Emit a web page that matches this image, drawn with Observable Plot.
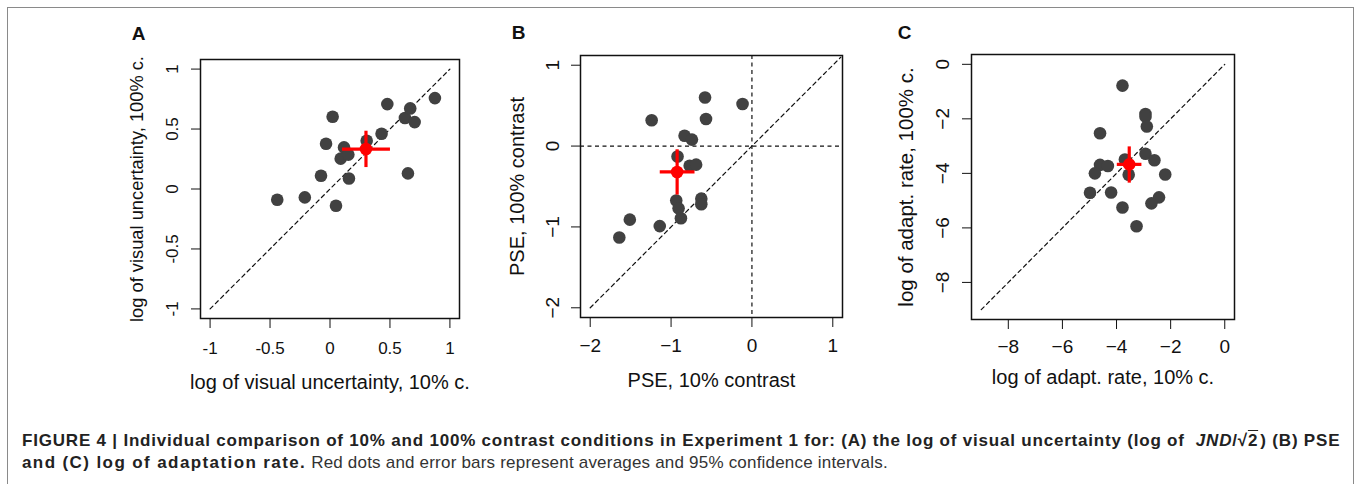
<!DOCTYPE html>
<html>
<head>
<meta charset="utf-8">
<script src="https://cdn.jsdelivr.net/npm/d3@7"></script>
<script src="https://cdn.jsdelivr.net/npm/@observablehq/plot@0.6"></script>
<style>
  html, body { margin: 0; padding: 0; background: #fff; }
  body { width: 1358px; height: 484px; position: relative; overflow: hidden; font-family: "Liberation Sans", Arial, Helvetica, sans-serif; }
  #border { position: absolute; left: 7px; top: 7px; width: 1347px; height: 520px; border: 1.5px solid #8a8a8a; box-sizing: border-box; }
  .panel { position: absolute; top: 15px; }
  .panel svg { overflow: visible; }
  #caption { position: absolute; left: 22px; top: 430px; width: 1335px; font-size: 17px; line-height: 21.6px; color: #333; white-space: nowrap; }
  #caption b { color: #222; letter-spacing: 0.8px; }
  #caption b.l2 { letter-spacing: 1.4px; }
  #caption span.reg { font-size: 17px; letter-spacing: 0.2px; }
  .ov { text-decoration: overline; }
</style>
</head>
<body>
<div id="border"></div>
<div id="pA" class="panel" style="left:110px"></div>
<div id="pB" class="panel" style="left:490px"></div>
<div id="pC" class="panel" style="left:881px"></div>
<div id="caption"><b>FIGURE 4 | Individual comparison of 10% and 100% contrast conditions in Experiment 1 for: (A) the log of visual uncertainty (log of&nbsp; <i>JND</i>/√<span class="ov">2</span>&#8202;) (B) PSE</b><br><b class="l2">and (C) log of adaptation rate.</b><span class="reg"> Red dots and error bars represent averages and 95% confidence intervals.</span></div>
<script>
// ---------- Panel A: log of visual uncertainty ----------
const aX10  = [-0.44, -0.21, 0.05, -0.075, 0.158, -0.033, 0.022, 0.089, 0.117, 0.153, 0.306, 0.43, 0.478, 0.625, 0.669, 0.706, 0.65, 0.875];
const aY100 = [-0.09, -0.07, -0.14, 0.11, 0.087, 0.378, 0.603, 0.253, 0.347, 0.287, 0.403, 0.461, 0.708, 0.592, 0.672, 0.558, 0.13, 0.758];
const aMean = [0.30, 0.333];
const aCIx  = [0.10, 0.50];
const aCIy  = [0.183, 0.486];
const aTicks = [-1, -0.5, 0, 0.5, 1];
const aDiag  = [-1, 1];

// ---------- Panel B: PSE ----------
const bX10  = [-1.64, -1.51, -1.14, -1.24, -0.936, -0.907, -0.878, -0.92, -0.833, -0.742, -0.77, -0.69, -0.626, -0.626, -0.58, -0.568, -0.116];
const bY100 = [-1.13, -0.91, -0.99, 0.32, -0.674, -0.77, -0.893, -0.129, 0.128, 0.08, -0.244, -0.23, -0.65, -0.72, 0.60, 0.335, 0.52];
const bMean = [-0.925, -0.32];
const bCIx  = [-1.14, -0.71];
const bCIy  = [-0.60, -0.04];
const bTicks = [-2, -1, 0, 1];
const bDiag  = [-2, 1.1];

// ---------- Panel C: log of adaptation rate ----------
const cX10  = [-3.78, -2.93, -2.93, -2.88, -4.61, -2.93, -2.60, -4.61, -4.32, -3.69, -4.80, -3.55, -2.20, -4.98, -4.20, -2.43, -2.71, -3.78, -3.26];
const cY100 = [-0.78, -1.82, -1.92, -2.28, -2.53, -3.28, -3.52, -3.69, -3.73, -3.49, -4.00, -4.05, -4.04, -4.71, -4.70, -4.88, -5.10, -5.25, -5.94];
const cMean = [-3.53, -3.67];
const cCIx  = [-3.99, -3.08];
const cCIy  = [-4.34, -3.01];
const cTicks = [-8, -6, -4, -2, 0];
const cDiag  = [-9, 0];

const FONT = '"Liberation Sans", Arial, Helvetica, sans-serif';

function panel(o) {
  const pts = o.xs.map((x, i) => ({x, y: o.ys[i]}));
  const mean = [{x: o.mean[0], y: o.mean[1]}];
  const hbar = [{x1: o.cix[0], x2: o.cix[1], y: o.mean[1]}];
  const vbar = [{y1: o.ciy[0], y2: o.ciy[1], x: o.mean[0]}];
  const marks = [];
  marks.push(Plot.line(o.diag, {x: d => d, y: d => d, stroke: "#111", strokeWidth: 1.2, strokeDasharray: "4,3.5"}));
  if (o.cross) {
    marks.push(Plot.ruleY([0], {stroke: "#111", strokeWidth: 1.2, strokeDasharray: "4,3.5"}));
    marks.push(Plot.ruleX([0], {stroke: "#111", strokeWidth: 1.2, strokeDasharray: "4,3.5"}));
  }
  marks.push(
    Plot.dot(pts, {x: "x", y: "y", r: 6.3, fill: "#414141", stroke: "none"}),
    Plot.link(hbar, {x1: "x1", x2: "x2", y1: "y", y2: "y", stroke: "#ff0000", strokeWidth: 3.2}),
    Plot.link(vbar, {x1: "x", x2: "x", y1: "y1", y2: "y2", stroke: "#ff0000", strokeWidth: 3.2}),
    Plot.dot(mean, {x: "x", y: "y", r: 6.3, fill: "#ff0000", stroke: "none"}),
    Plot.frame({stroke: "#111", strokeWidth: 1.5}),
    Plot.axisX({ticks: o.ticks, tickFormat: o.fmt, tickSize: 10, tickPadding: o.xpad, label: null, fontSize: o.tickFont, stroke: "#111"}),
    Plot.axisY({ticks: o.ticks, tickFormat: o.fmt, tickSize: 9, tickPadding: o.ypad, tickRotate: -90, label: null, fontSize: o.tickFont, stroke: "#111"}),
    Plot.text([o.xlabel], {text: d => d, frameAnchor: "bottom", textAnchor: "middle", lineAnchor: "middle", dy: o.xlabDy, fontSize: 20, fill: "#111"}),
    Plot.text([o.ylabel], {text: d => d, frameAnchor: "left", textAnchor: "middle", lineAnchor: "middle", rotate: -90, dx: o.ylabDx, fontSize: o.ylabFont, fill: "#111"}),
    Plot.text([o.letter], {text: d => d, frameAnchor: "top-left", textAnchor: "middle", lineAnchor: "middle", dx: o.letDx, dy: o.letDy, fontSize: 19, fontWeight: "bold", fill: "#111"})
  );
  return Plot.plot({
    width: o.W, height: o.H,
    marginLeft: o.ml, marginTop: o.mt, marginRight: o.mr, marginBottom: o.mb,
    x: {domain: o.xdom}, y: {domain: o.ydom},
    style: {fontFamily: FONT, fontSize: "18px", color: "#111", background: "transparent", overflow: "visible"},
    marks
  });
}

const plain = d => String(d);
const minus = d => d3.format("")(d).replace("-", "\u2212");

document.getElementById("pA").append(panel({
  xs: aX10, ys: aY100, mean: aMean, cix: aCIx, ciy: aCIy, ticks: aTicks, diag: aDiag, fmt: plain,
  xdom: [-1.08, 1.08], ydom: [-1.08, 1.08],
  W: 364, H: 380, ml: 90, mt: 44, mr: 15, mb: 77,
  xpad: 13, ypad: 14, tickFont: 17,
  xlabel: "log of visual uncertainty, 10% c.", ylabel: "log of visual uncertainty, 100% c.", ylabFont: 18.3,
  xlabDy: 64, ylabDx: -63, letter: "A", letDx: -62, letDy: -26
}));

document.getElementById("pB").append(panel({
  xs: bX10, ys: bY100, mean: bMean, cix: bCIx, ciy: bCIy, ticks: bTicks, diag: bDiag, fmt: minus, cross: true,
  xdom: [-2.12, 1.12], ydom: [-2.12, 1.12],
  W: 367, H: 380, ml: 90, mt: 40, mr: 15, mb: 78,
  xpad: 11, ypad: 12.5, tickFont: 19,
  xlabel: "PSE, 10% contrast", ylabel: "PSE, 100% contrast", ylabFont: 20,
  xlabDy: 63, ylabDx: -63, letter: "B", letDx: -62, letDy: -23
}));

document.getElementById("pC").append(panel({
  xs: cX10, ys: cY100, mean: cMean, cix: cCIx, ciy: cCIy, ticks: cTicks, diag: cDiag, fmt: minus,
  xdom: [-9.36, 0.36], ydom: [-9.36, 0.36],
  W: 368, H: 380, ml: 90, mt: 39, mr: 15, mb: 76,
  xpad: 10, ypad: 13.5, tickFont: 19,
  xlabel: "log of adapt. rate, 10% c.", ylabel: "log of adapt. rate, 100% c.", ylabFont: 20.5,
  xlabDy: 58, ylabDx: -65, letter: "C", letDx: -67, letDy: -21.5
}));
</script>
</body>
</html>
